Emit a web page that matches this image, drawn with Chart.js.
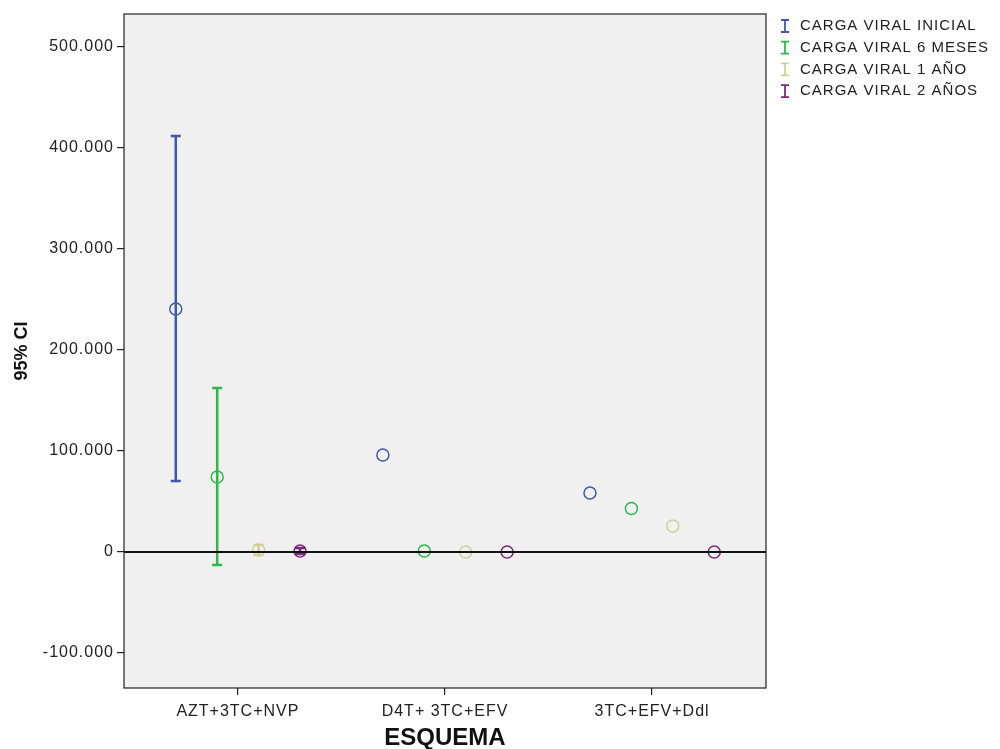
<!DOCTYPE html>
<html>
<head>
<meta charset="utf-8">
<script src="https://cdn.jsdelivr.net/npm/chart.js@4/dist/chart.umd.min.js"></script>
<style>
  html, body { margin: 0; padding: 0; background: #fff; }
  #wrap { width: 1000px; height: 749px; }
</style>
</head>
<body>
<div id="wrap"><canvas id="chart" width="1000" height="749"></canvas></div>
<script>
// data
const categories = ['AZT+3TC+NVP', 'D4T+ 3TC+EFV', '3TC+EFV+Ddl'];
const seriesNames = ['CARGA VIRAL INICIAL', 'CARGA VIRAL 6 MESES', 'CARGA VIRAL 1 AÑO', 'CARGA VIRAL 2 AÑOS'];
const seriesColors = ['#3E58AC', '#2EB848', '#D3CE97', '#7C287D'];

const inicialMean = [240600, 96000, 58400];
const inicialLow = [70300, null, null];
const inicialHigh = [411900, null, null];

const meses6Mean = [74300, 1000, 43000];
const meses6Low = [-12900, null, null];
const meses6High = [162400, null, null];

const anio1Mean = [2000, 0, 25700];
const anio1Low = [-3000, null, null];
const anio1High = [7000, null, null];

const anios2Mean = [1000, 0, 0];
const anios2Low = [-2000, null, null];
const anios2High = [4000, null, null];

const yTicks = [-100000, 0, 100000, 200000, 300000, 400000, 500000];

const means = [inicialMean, meses6Mean, anio1Mean, anios2Mean];
const lows = [inicialLow, meses6Low, anio1Low, anios2Low];
const highs = [inicialHigh, meses6High, anio1High, anios2High];
const offsets = [-0.3, -0.1, 0.1, 0.3];

const FONT = '"Liberation Sans", Arial, sans-serif';

function fmt(v) {
    const s = Math.abs(v).toString().replace(/\B(?=(\d{3})+(?!\d))/g, '.');
    return (v < 0 ? '-' : '') + s;
}

const datasets = seriesNames.map((name, i) => ({
    label: name,
    data: means[i].map((m, c) => ({ x: c + offsets[i], y: m })),
    borderColor: seriesColors[i],
    backgroundColor: 'rgba(0,0,0,0)',
    pointStyle: 'circle',
    pointRadius: 6,
    pointHoverRadius: 6,
    pointBorderWidth: 1.5,
    showLine: false
}));

const framePlugin = {
    id: 'frame',
    beforeDraw(chart) {
        const { ctx, chartArea: a } = chart;
        ctx.letterSpacing = '1px';  // the reference text is set wide
        ctx.save();
        ctx.fillStyle = '#f0f0f0';
        ctx.fillRect(a.left, a.top, a.right - a.left, a.bottom - a.top);
        ctx.restore();
    },
    beforeDatasetsDraw(chart) {
        const { ctx } = chart;
        const xs = chart.scales.x, ys = chart.scales.y;
        ctx.save();
        ctx.lineWidth = 2.5;
        for (let i = 0; i < seriesNames.length; i++) {
            ctx.strokeStyle = seriesColors[i];
            for (let c = 0; c < categories.length; c++) {
                if (lows[i][c] === null) continue;
                const px = xs.getPixelForValue(c + offsets[i]);
                const y1 = ys.getPixelForValue(lows[i][c]);
                const y2 = ys.getPixelForValue(highs[i][c]);
                ctx.beginPath();
                ctx.moveTo(px, y1); ctx.lineTo(px, y2);
                ctx.moveTo(px - 5, y1); ctx.lineTo(px + 5, y1);
                ctx.moveTo(px - 5, y2); ctx.lineTo(px + 5, y2);
                ctx.stroke();
            }
        }
        ctx.restore();
    },
    afterDatasetsDraw(chart) {
        const { ctx, chartArea: a } = chart;
        const y0 = chart.scales.y.getPixelForValue(0);
        ctx.save();
        ctx.strokeStyle = '#111';
        ctx.lineWidth = 2;
        ctx.beginPath();
        ctx.moveTo(a.left, y0); ctx.lineTo(a.right, y0);
        ctx.stroke();
        ctx.lineWidth = 1.2;
        ctx.strokeStyle = '#222';
        ctx.strokeRect(a.left, a.top, a.right - a.left, a.bottom - a.top);

        // legend
        ctx.font = '15px ' + FONT;
        ctx.textBaseline = 'middle';
        seriesNames.forEach((name, i) => {
            const ly = 26 + i * 21.7;
            const lx = 785;
            ctx.strokeStyle = seriesColors[i];
            ctx.lineWidth = 1.8;
            ctx.beginPath();
            ctx.moveTo(lx, ly - 6); ctx.lineTo(lx, ly + 6);
            ctx.moveTo(lx - 4, ly - 6); ctx.lineTo(lx + 4, ly - 6);
            ctx.moveTo(lx - 4, ly + 6); ctx.lineTo(lx + 4, ly + 6);
            ctx.stroke();
            ctx.fillStyle = '#222';
            ctx.fillText(name, 800, ly);
        });

        // axis titles
        ctx.letterSpacing = '0px';
        ctx.fillStyle = '#111';
        ctx.textAlign = 'center';
        ctx.font = 'bold 24px ' + FONT;
        ctx.fillText('ESQUEMA', (a.left + a.right) / 2, 738);
        ctx.translate(22, (a.top + a.bottom) / 2);
        ctx.rotate(-Math.PI / 2);
        ctx.font = 'bold 18px ' + FONT;
        ctx.fillText('95% CI', 0, 0);
        ctx.restore();
    }
};

new Chart(document.getElementById('chart'), {
    type: 'scatter',
    data: { datasets: datasets },
    options: {
        responsive: false,
        animation: false,
        layout: { padding: { top: 14, right: 234, left: 0, bottom: 0 } },
        plugins: { legend: { display: false }, tooltip: { enabled: false } },
        scales: {
            x: {
                type: 'linear',
                min: -0.55,
                max: 2.55,
                afterBuildTicks: s => { s.ticks = categories.map((c, i) => ({ value: i })); },
                afterFit: s => { s.height = 61; },
                grid: { drawOnChartArea: false, drawTicks: true, tickLength: 7, color: '#222', lineWidth: 1.2 },
                border: { display: false },
                ticks: {
                    callback: v => categories[v],
                    color: '#222',
                    font: { size: 16, family: FONT },
                    padding: 7,
                    maxRotation: 0
                }
            },
            y: {
                min: -134700,
                max: 532700,
                afterBuildTicks: s => { s.ticks = yTicks.map(v => ({ value: v })); },
                afterFit: s => { s.width = 124; },
                grid: { drawOnChartArea: false, drawTicks: true, tickLength: 7, color: '#222', lineWidth: 1.2 },
                border: { display: false },
                ticks: {
                    callback: v => fmt(v),
                    color: '#222',
                    font: { size: 16, family: FONT },
                    padding: 3
                }
            }
        }
    },
    plugins: [framePlugin]
});
</script>
</body>
</html>
